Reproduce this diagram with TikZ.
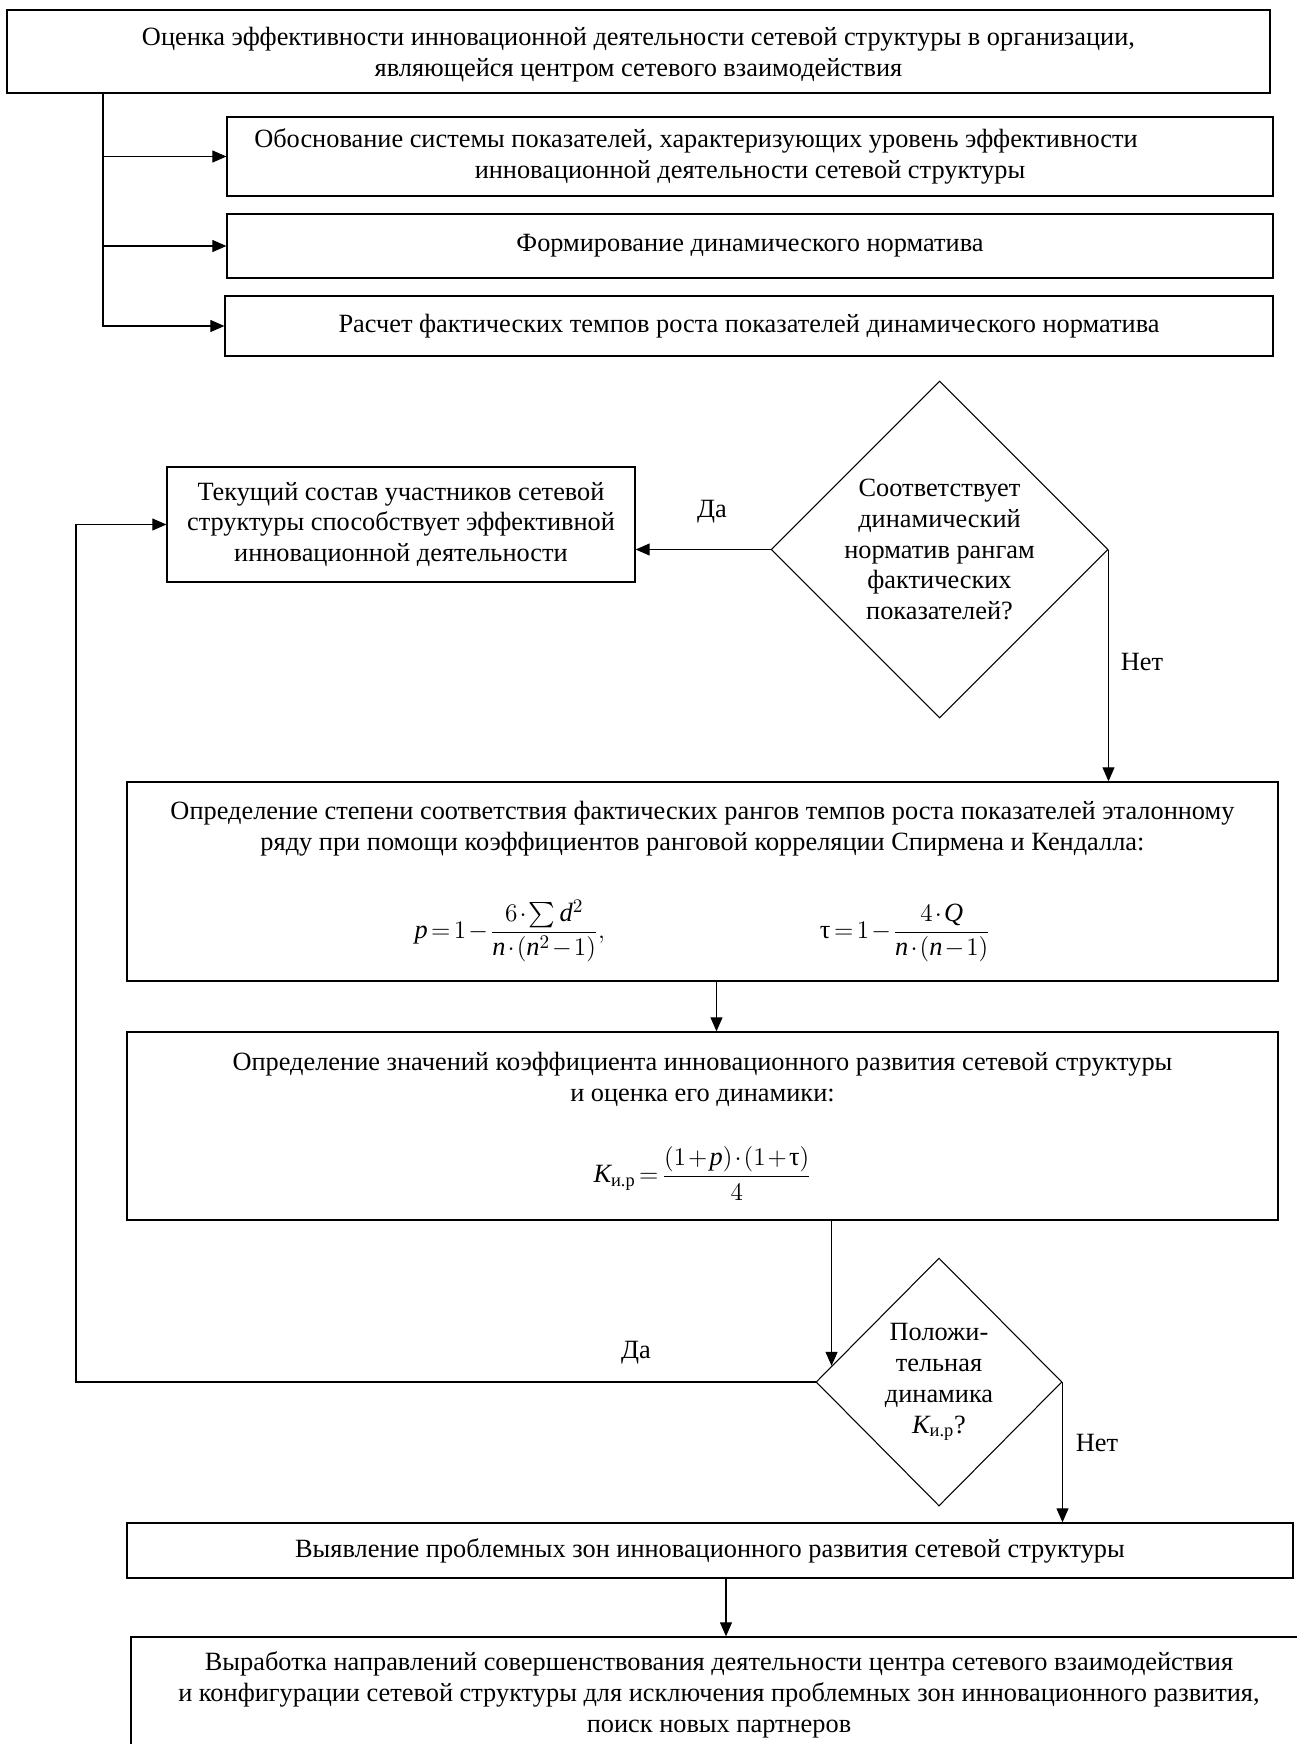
\documentclass[tikz,border=0pt]{standalone}
\usepackage{amsmath}
\usepackage{fontspec}
\setmainfont{Liberation Serif}
\usepackage{tikz}
\usetikzlibrary{arrows.meta,shapes.geometric}

\begin{document}
\begin{tikzpicture}[x=0.02cm, y=-0.02cm,
  font=\fontsize{15}{17.6}\selectfont,
  box/.style={draw, line width=0.8pt, inner sep=0pt, align=center},
  decision/.style={draw, diamond, line width=0.6pt, inner sep=0pt, align=center},
  arr/.style={line width=0.6pt, -{Triangle[length=0.28cm, width=0.24cm]}},
  lbl/.style={inner sep=0pt}]
\useasboundingbox (0,0) rectangle (1296,1744);
\medmuskip=1.5mu \thickmuskip=2.5mu

% top part
\node[box, minimum width=25.26cm, minimum height=1.66cm] (ocenka) at (638.5,51.5) {\rule{0pt}{14pt}Оценка эффективности инновационной деятельности сетевой структуры в организации,\\ являющейся центром сетевого взаимодействия};
\node[box, minimum width=20.92cm, minimum height=1.58cm] (pokaz) at (750,156.5) {Обоснование системы показателей, характеризующих уровень эффективности\hspace*{2.16cm}\\ инновационной деятельности сетевой структуры};
\node[box, minimum width=20.92cm, minimum height=1.28cm] (norm) at (750,246) {Формирование динамического норматива};
\node[box, minimum width=20.96cm, minimum height=1.2cm] (tempy) at (749,326) {Расчет фактических темпов роста показателей динамического норматива};
\coordinate (trunk) at (103,0);
\draw[arr] (ocenka.south -| trunk) |- (pokaz.west);
\draw[arr] (ocenka.south -| trunk) |- (norm.west);
\draw[arr] (ocenka.south -| trunk) |- (tempy.west);

% first check
\node[box, minimum width=9.36cm, minimum height=2.3cm] (sostav) at (401,524.5) {Текущий состав участников сетевой\\ структуры способствует эффективной\\ инновационной деятельности};
\node[decision, minimum width=6.74cm, minimum height=6.74cm] (vopr1) at (939.5,549.5) {Соответствует\\ динамический\\ норматив рангам\\ фактических\\ показателей?};
\draw[arr] (vopr1.west) -- (vopr1.west -| sostav.east);
\node[lbl] (da1) at (712,512) {Да};

\node[box, minimum width=23.02cm, minimum height=3.98cm] (spirmen) at (702.5,881.5) {Определение степени соответствия фактических рангов темпов роста показателей эталонному\\ ряду при помощи коэффициентов ранговой корреляции Спирмена и Кендалла:\\[24pt]
$\displaystyle \mathit{p}=1-\frac{6\cdot\sum \mathit{d}^{2}}{\mathit{n}\cdot(\mathit{n}^{2}-1)},$\hspace{4.3cm}$\displaystyle \mbox{τ}=1-\frac{4\cdot \mathit{Q}}{\mathit{n}\cdot(\mathit{n}-1)}$};
\draw[arr] (vopr1.east) -- (vopr1.east |- spirmen.north);
\node[lbl] (net1) at (1142,662) {Нет};

\node[box, minimum width=23.02cm, minimum height=3.76cm] (koef) at (702.5,1126) {Определение значений коэффициента инновационного развития сетевой структуры\\ и оценка его динамики:\\[22pt]
$\displaystyle \mathit{K}_{\text{и.р}}=\frac{(1+\mathit{p})\cdot(1+\mbox{τ})}{4}$};
\draw[arr] ([xshift=0.28cm]spirmen.south) -- ([xshift=0.28cm]koef.north);

% second check
\node[decision, minimum width=4.92cm, minimum height=4.96cm] (vopr2) at (939,1382) {Положи-\\ тельная\\ динамика\\ $\mathit{K}_{\text{и.р}}$?};
\path (vopr2.west) -- (vopr2.north) coordinate[pos=0.13] (drop);
\draw[arr] (koef.south -| drop) -- (drop);
\coordinate (loop) at (76,0);
\draw[arr] (vopr2.west) -- (vopr2.west -| loop) |- (sostav.west);
\node[lbl] (da2) at (636,1353) {Да};

\node[box, minimum width=23.32cm, minimum height=1.1cm] (zony) at (710,1550.5) {Выявление проблемных зон инновационного развития сетевой структуры};
\draw[arr] (vopr2.east) -- (vopr2.east |- zony.north);
\node[lbl] (net2) at (1097,1443) {Нет};

\node[box, minimum width=23.52cm, minimum height=2.32cm] (vyrab) at (719,1695) {Выработка направлений совершенствования деятельности центра сетевого взаимодействия\\ и конфигурации сетевой структуры для исключения проблемных зон инновационного развития,\\ поиск новых партнеров};
\draw[arr] ([xshift=0.32cm]zony.south) -- ([xshift=0.32cm]zony.south |- vyrab.north);

\end{tikzpicture}
\end{document}
